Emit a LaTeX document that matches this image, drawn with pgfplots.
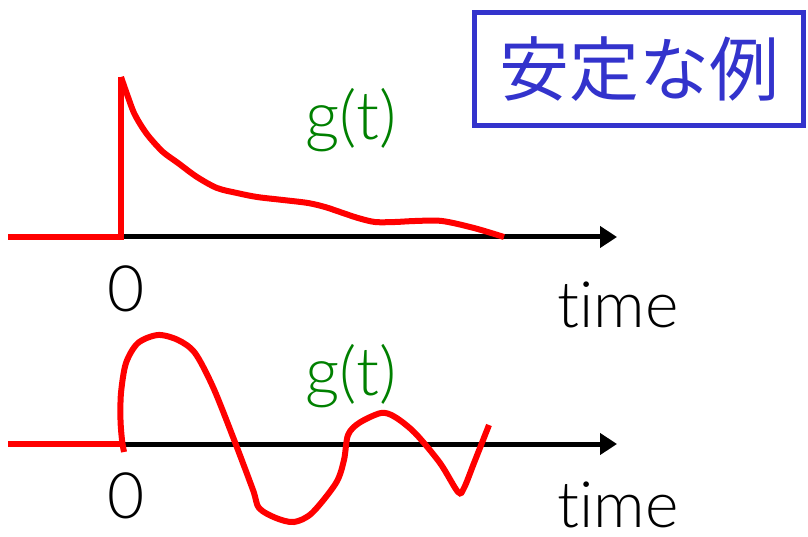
\documentclass[border=0pt]{standalone}
\usepackage{pgfplots}
\pgfplotsset{compat=1.18}
\usetikzlibrary{arrows.meta}
\usepackage{fontspec}
\newfontfamily\cjk{Noto Sans CJK JP}
\newfontfamily\thin{Lato Light}[Ligatures=NoCommon]
\definecolor{myred}{RGB}{255,0,0}
\definecolor{mygreen}{RGB}{0,128,0}
\definecolor{myblue}{RGB}{51,51,204}
\begin{document}
\begin{tikzpicture}
\begin{axis}[x=1pt,y=1pt,xmin=0,xmax=808,ymin=0,ymax=537,y dir=reverse,hide axis,clip=false]
\coordinate (bl) at (axis cs:0,537);
\coordinate (tr) at (axis cs:808,0);
% top panel
\addplot[black, line width=5pt, -{Triangle[length=17pt,width=21pt]}] coordinates {(121,237) (617,237)};
\addplot[myred, line width=6pt] coordinates {(8,237) (121,237) (121,77)};
\addplot[myred, line width=6pt, smooth, tension=0.5] coordinates {(121,77) (128,97) (134,113) (142,127) (150,138) (163,152) (178,163) (197,177) (217,188) (237,193) (257,197) (283,200) (308,203) (325,207) (340,212) (358,218) (375,222) (395,222) (415,221) (442,221) (474,228) (504,237)};
% bottom panel
\addplot[black, line width=5pt, -{Triangle[length=17pt,width=21pt]}] coordinates {(121,444) (617,444)};
\addplot[myred, line width=6pt] coordinates {(8,444) (121,444)};
\addplot[myred, line width=6pt, smooth, tension=0.5] coordinates {(124,452) (122,440) (120.5,420) (121,393) (126,363) (138,343) (158,335) (178,340) (195,353) (213,387) (233,437) (253,490) (259,508) (276,518) (294,522) (312,513) (336,483) (344,460) (348,435) (359,423) (381,413) (395,417) (415,433) (440,463) (458,492) (464,488) (474,463) (489,425)};
% texts
\node[inner sep=0pt, font=\thin\fontsize{67}{70}\selectfont, text=mygreen, anchor=base] at (axis cs:351,140) {g(t)};
\node[inner sep=0pt, font=\thin\fontsize{67}{70}\selectfont, text=mygreen, anchor=base] at (axis cs:351,395) {g(t)};
\node[inner sep=0pt, font=\thin\fontsize{64}{70}\selectfont, text=black, anchor=base] at (axis cs:126,311) {0};
\node[inner sep=0pt, font=\thin\fontsize{64}{70}\selectfont, text=black, anchor=base] at (axis cs:126,518) {0};
\node[inner sep=0pt, font=\thin\fontsize{64}{70}\selectfont, text=black, anchor=base] at (axis cs:618,327) {time};
\node[inner sep=0pt, font=\thin\fontsize{64}{70}\selectfont, text=black, anchor=base] at (axis cs:618,527) {time};
\node[draw=myblue, line width=5pt, minimum width=329pt, minimum height=113pt, inner sep=0pt, text=myblue, font=\cjk\fontsize{70}{80}\selectfont] at (axis cs:639,69) {安定な例};
\end{axis}
\pgfresetboundingbox
\path[use as bounding box] (bl) rectangle (tr);
\end{tikzpicture}
\end{document}
